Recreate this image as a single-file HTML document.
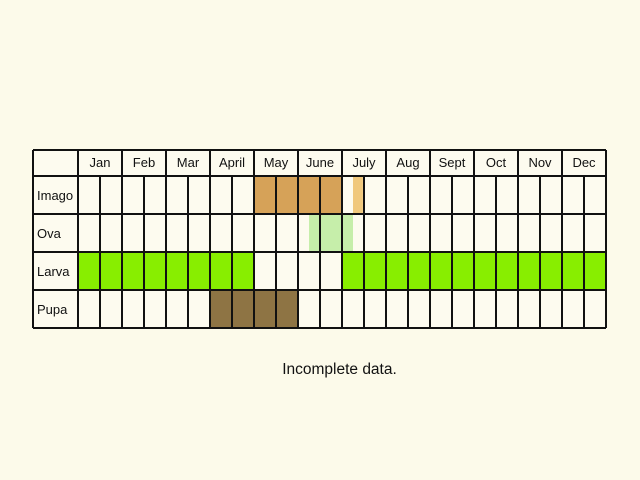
<!DOCTYPE html>
<html><head><meta charset="utf-8"><style>
html,body{margin:0;padding:0;background:#fcfaea;}
svg{display:block;font-family:"Liberation Sans",sans-serif;}
</style></head><body>
<svg id="chart" width="640" height="480">
<rect width="640" height="480" fill="#fcfaea"/>
</svg>
<script>
const months = ["Jan","Feb","Mar","April","May","June","July","Aug","Sept","Oct","Nov","Dec"];
const stages = ["Imago","Ova","Larva","Pupa"];
// activity spans in half-month units [start, end, colour]
const imagoSpans = [[8,12,"#d6a258"],[12.5,12.95,"#f0c87c"]];
const ovaSpans = [[10.5,12.5,"#c6eeaa"]];
const larvaSpans = [[0,8,"#88ee00"],[12,24,"#88ee00"]];
const pupaSpans = [[6,10,"#8e7444"]];
const spansByStage = [imagoSpans, ovaSpans, larvaSpans, pupaSpans];

const svg = document.getElementById('chart');
const NS = "http://www.w3.org/2000/svg";
const X0 = 78, HW = 22, LEFT = 33, HEADTOP = 150, HEADBOT = 176, ROWH = 38;
const xOf = h => X0 + h*HW;
const yOf = r => HEADBOT + r*ROWH;
function mk(tag, attrs){const e=document.createElementNS(NS,tag);for(const k in attrs)e.setAttribute(k,attrs[k]);svg.appendChild(e);return e;}

const bg = mk('rect',{x:LEFT,y:HEADTOP,width:xOf(24)-LEFT,height:yOf(stages.length)-HEADTOP,fill:'#fdfbef'});



spansByStage.forEach((spans,r)=>{
  spans.forEach(s=>{
    const e = mk('rect',{x:xOf(s[0]),y:yOf(r),width:xOf(s[1])-xOf(s[0]),height:ROWH,fill:s[2]});
    
    
  });
});

const g = mk('g',{stroke:'#111','stroke-width':2,fill:'none'});
function line(x1,y1,x2,y2){const l=document.createElementNS(NS,'line');l.setAttribute('x1',x1);l.setAttribute('y1',y1);l.setAttribute('x2',x2);l.setAttribute('y2',y2);g.appendChild(l);}
line(LEFT,HEADTOP,xOf(24),HEADTOP);
for(let r=0;r<=stages.length;r++) line(LEFT,yOf(r),xOf(24),yOf(r));
line(LEFT,HEADTOP,LEFT,yOf(stages.length));
for(let h=0;h<=24;h++){ line(xOf(h), h%2===0?HEADTOP:HEADBOT, xOf(h), yOf(stages.length)); }

months.forEach((m,i)=>{
  const t = mk('text',{x:xOf(i*2+1),y:HEADBOT-9,'text-anchor':'middle','font-size':13,fill:'#111'});
  t.textContent = m;
  
  
});
stages.forEach((s,r)=>{
  const t = mk('text',{x:LEFT+4,y:yOf(r)+ROWH/2+5,'font-size':13,fill:'#111'});
  t.textContent = s;
  
  
});
const note = mk('text',{x:339.5,y:374,'text-anchor':'middle','font-size':15.5,fill:'#111'});
note.textContent = "Incomplete data.";


</script>
</body></html>
